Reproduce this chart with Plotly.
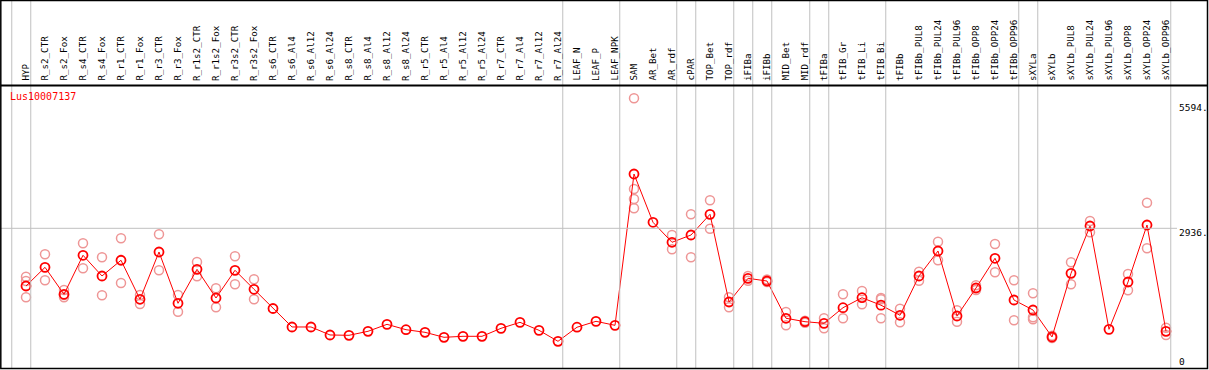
import plotly.graph_objects as go

categories = ["HYP", "R_s2_CTR", "R_s2_Fox", "R_s4_CTR", "R_s4_Fox", "R_r1_CTR", "R_r1_Fox",
              "R_r3_CTR", "R_r3_Fox", "R_r1s2_CTR", "R_r1s2_Fox", "R_r3s2_CTR", "R_r3s2_Fox",
              "R_s6_CTR", "R_s6_Al4", "R_s6_Al12", "R_s6_Al24", "R_s8_CTR", "R_s8_Al4", "R_s8_Al12",
              "R_s8_Al24", "R_r5_CTR", "R_r5_Al4", "R_r5_Al12", "R_r5_Al24", "R_r7_CTR", "R_r7_Al4",
              "R_r7_Al12", "R_r7_Al24", "LEAF_N", "LEAF_P", "LEAF_NPK", "SAM", "AR_Bet", "AR_rdf",
              "cPAR", "TOP_Bet", "TOP_rdf", "iFIBa", "iFIBb", "MID_Bet", "MID_rdf", "tFIBa",
              "tFIB_Gr", "tFIB_Li", "tFIB_Bi", "tFIBb", "tFIBb_PUL8", "tFIBb_PUL24", "tFIBb_PUL96",
              "tFIBb_OPP8", "tFIBb_OPP24", "tFIBb_OPP96", "sXYLa", "sXYLb", "sXYLb_PUL8",
              "sXYLb_PUL24", "sXYLb_PUL96", "sXYLb_OPP8", "sXYLb_OPP24", "sXYLb_OPP96"]

mean_values = [1723, 2116, 1549, 2369, 1934, 2264, 1444, 2438, 1360, 2074, 1471, 2053, 1654,
               1251, 862, 862, 694, 687, 771, 918, 805, 750, 645, 666, 666, 834, 960, 792, 561,
               857, 981, 897, 4077, 3062, 2642, 2795, 3230, 1387, 1885, 1828, 1045, 973, 939,
               1267, 1477, 1320, 1108, 1934, 2459, 1093, 1681, 2306, 1429, 1219, 652, 1990,
               2984, 813, 1807, 3005, 771]

replicates = [
    [1919, 1829, 1486], [2390, 1843], [1639, 1534, 1486], [2621, 2095], [2327, 1528],
    [2726, 1786], [1534, 1345], [2810, 2053], [1534, 1183], [2228, 1927], [1675, 1276],
    [2348, 1759], [1864, 1444],
    [], [], [], [], [], [], [], [], [], [], [], [], [], [], [], [],
    [], [], [],
    [5668, 3762, 3552, 3356], [], [2795, 2495], [3230, 2327], [3525, 2928], [1486, 1276],
    [1934, 1835], [1860, 1807], [1177, 897], [994, 952], [1045, 834], [1549, 1045],
    [1618, 1339], [1471, 1444, 1045], [1246, 960], [2024, 1835], [2654, 2264], [1213, 973],
    [1738, 1639], [2606, 2011], [1843, 1003], [1570, 1066, 1024], [679, 631], [2222, 1759],
    [3089, 2852], [], [1976, 1633], [3474, 2516], [847, 694],
]

group_starts = [0, 1, 29, 32, 35, 36, 38, 39, 40, 42, 43, 46, 53, 54, 61]

gene_name = "Lus10007137"
y_labels = [5594, 2936, 0]
y_label_text = ["5594.", "2936.", "0"]
y_grid_value = 2936

W, H = 1209, 370
PX_PER_CAT = 19.0
X0_PX = 26.0
PLOT_TOP, PLOT_BOT = 88.0, 368.0
HEADER_LINE = 85.5
UNITS_PER_PX = 2936 / (PLOT_BOT - 228.3)

def py(p):
    return (H - p) / H

def px(p):
    return p / W

x_idx = list(range(len(categories)))
rx, ry = [], []
for i, reps in enumerate(replicates):
    for v in reps:
        rx.append(i)
        ry.append(v)

fig = go.Figure()
fig.add_trace(go.Scatter(
    x=rx, y=ry, mode="markers",
    marker=dict(symbol="circle-open", size=9, color="rgb(238,150,150)", line=dict(width=1.5)),
    hoverinfo="skip", showlegend=False))
fig.add_trace(go.Scatter(
    x=x_idx, y=mean_values, mode="lines+markers",
    line=dict(color="#ff0000", width=1),
    marker=dict(symbol="circle-open", size=9, color="#ff0000", line=dict(width=1.8)),
    showlegend=False))

mono = "DejaVu Sans Mono"
shapes = []
# group boundary lines
for g in group_starts:
    shapes.append(dict(type="line", xref="x", yref="paper", x0=g - 0.75, x1=g - 0.75,
                       y0=py(PLOT_BOT), y1=py(0), line=dict(color="#c0c0c0", width=1)))
# horizontal grid
shapes.append(dict(type="line", xref="paper", yref="y", x0=px(1), x1=px(1177),
                   y0=y_grid_value, y1=y_grid_value, line=dict(color="#c0c0c0", width=1)))
# frame
shapes.append(dict(type="rect", xref="paper", yref="paper", x0=px(0.8), x1=px(1207.5),
                   y0=py(368.5), y1=py(0.6), line=dict(color="black", width=1.5)))
shapes.append(dict(type="line", xref="paper", yref="paper", x0=px(0.8), x1=px(1207.5),
                   y0=py(HEADER_LINE), y1=py(HEADER_LINE), line=dict(color="black", width=2)))

annotations = []
for i, c in enumerate(categories):
    annotations.append(dict(x=i - 0.05, xref="x", y=py(83), yref="paper", text=c,
                            textangle=-90, showarrow=False, xanchor="center", yanchor="bottom",
                            font=dict(family=mono, size=9.2, color="black")))
annotations.append(dict(x=px(8), xref="paper", y=py(96.7), yref="paper", text=gene_name,
                        showarrow=False, xanchor="left", yanchor="middle",
                        font=dict(family=mono, size=10, color="#ff0000")))
shifts = [-5.5, -4.4, 6.3]
for v, t, s in zip(y_labels, y_label_text, shifts):
    annotations.append(dict(x=px(1177), xref="paper", y=v, yref="y", yshift=s, text=t,
                            showarrow=False, xanchor="left", yanchor="middle",
                            font=dict(family=mono, size=9.5, color="black")))

x_r0 = -X0_PX / PX_PER_CAT
x_r1 = x_r0 + W / PX_PER_CAT
fig.update_layout(
    width=W, height=H, autosize=False,
    margin=dict(l=0, r=0, t=0, b=0, pad=0),
    paper_bgcolor="white", plot_bgcolor="white",
    xaxis=dict(range=[x_r0, x_r1], domain=[0, 1], showgrid=False, zeroline=False,
               showticklabels=False, showline=False, fixedrange=True),
    yaxis=dict(range=[0, (PLOT_BOT - PLOT_TOP) * UNITS_PER_PX], domain=[py(PLOT_BOT), py(PLOT_TOP)],
               showgrid=False, zeroline=False, showticklabels=False, showline=False, fixedrange=True),
    shapes=shapes, annotations=annotations, showlegend=False,
)

fig.write_html("out.html", config={"displayModeBar": False},
               post_script="document.body.style.margin='0px';document.body.style.overflow='hidden';")
